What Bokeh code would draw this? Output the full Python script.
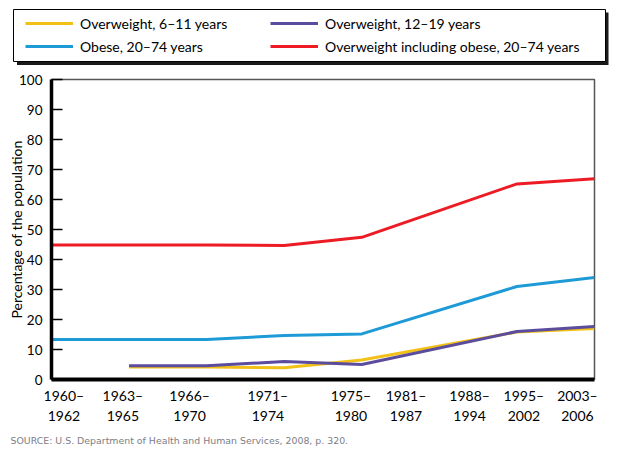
from bokeh.plotting import figure
from bokeh.layouts import column
from bokeh.models import (Range1d, FixedTicker, Legend, LegendItem, Title)
from bokeh.embed import file_html
from bokeh.resources import INLINE

# ---- data -------------------------------------------------------------
period_labels = ["1960–\n1962", "1963–\n1965", "1966–\n1970", "1971–\n1974",
                 "1975–\n1980", "1981–\n1987", "1988–\n1994", "1995–\n2002",
                 "2003–\n2006"]
adult_slots = [0, 1, 2, 3, 4, 6, 7]
child_slots = [1, 2, 3, 4, 6, 7]
overweight_6_11 = [4.2, 4.2, 3.9, 6.5, 15.8, 17.0]
overweight_12_19 = [4.6, 4.6, 6.0, 5.0, 16.0, 17.7]
obese_20_74 = [13.3, 13.3, 13.3, 14.7, 15.2, 31.0, 34.0]
overweight_incl_obese_20_74 = [44.8, 44.8, 44.8, 44.7, 47.4, 65.2, 66.9]
y_ticks = [0, 10, 20, 30, 40, 50, 60, 70, 80, 90, 100]
series_names = ["Overweight, 6–11 years", "Obese, 20–74 years",
                "Overweight, 12–19 years", "Overweight including obese, 20–74 years"]

# layout: where the period labels sit along the axis (slot units)
label_slots = [0.16, 0.92, 1.78, 2.79, 3.86, 4.57, 5.39, 6.09, 6.78]

FONT = "Lato"
W = 616
TOP_H = 70
YELLOW, BLUE, PURPLE, RED = "#F2C118", "#1E9BD6", "#5B4C9E", "#ED1C24"
NAN = float("nan")

# ---- legend strip -----------------------------------------------------
lg = figure(width=W, height=TOP_H, output_backend="svg", toolbar_location=None,
            x_range=Range1d(0, W), y_range=Range1d(TOP_H, 0),
            x_axis_location=None, y_axis_location=None,
            min_border=0, min_border_left=0, min_border_right=0,
            min_border_top=0, min_border_bottom=0)
lg.frame_align = False
lg.grid.visible = False
lg.outline_line_color = None
lg.background_fill_color = "white"
lg.border_fill_color = "white"
# drop shadow + box
lg.quad(left=[16.5], right=[608], top=[12], bottom=[64.5],
        fill_color="#1a1a1a", line_color=None)
lg.quad(left=[13], right=[605], top=[9], bottom=[61],
        fill_color="white", line_color="black", line_width=1)
swatches = [lg.line(x=[0], y=[NAN], line_color=c, line_width=3)
            for c in (YELLOW, BLUE, PURPLE, RED)]
legend = Legend(items=[LegendItem(label=n, renderers=[r]) for n, r in
                       zip(series_names, swatches)],
                ncols=2, location=(21, TOP_H - 60), padding=4, spacing=3, margin=0,
                glyph_width=48, glyph_height=20, label_height=20, label_width=187,
                label_standoff=7, label_text_font=FONT, label_text_font_size="14px",
                label_text_color="black", border_line_alpha=0,
                background_fill_alpha=0)
lg.add_layout(legend)

# ---- main chart -------------------------------------------------------
p = figure(width=W, height=452 - TOP_H, output_backend="svg", toolbar_location=None,
           x_range=Range1d(0, 7), y_range=Range1d(0, 100),
           min_border_left=51, min_border_right=W - 594, min_border_top=79 - TOP_H,
           min_border_bottom=452 - 379)
p.frame_align = False
p.grid.visible = False
p.outline_line_color = "#555555"
p.outline_line_width = 1.5
p.background_fill_color = "white"
p.border_fill_color = "white"

p.yaxis.ticker = FixedTicker(ticks=y_ticks)
p.yaxis.axis_line_width = 3.5
p.yaxis.axis_line_color = "black"
p.yaxis.major_tick_in = 11
p.yaxis.major_tick_out = 0
p.yaxis.major_tick_line_width = 1.5
p.yaxis.minor_tick_line_color = None
p.yaxis.major_label_text_font = FONT
p.yaxis.major_label_text_font_size = "13.5px"
p.yaxis.major_label_text_color = "black"
p.yaxis.major_label_standoff = 9
p.yaxis.axis_label = "Percentage of the population"
p.yaxis.axis_label_text_font = FONT
p.yaxis.axis_label_text_font_size = "14px"
p.yaxis.axis_label_text_font_style = "normal"
p.yaxis.axis_label_text_color = "black"
p.yaxis.axis_label_standoff = -9

p.xaxis.ticker = FixedTicker(ticks=label_slots)
p.xaxis.major_label_overrides = {s: t for s, t in zip(label_slots, period_labels)}
p.xaxis.axis_line_width = 4
p.xaxis.axis_line_color = "black"
p.xaxis.major_tick_in = 0
p.xaxis.major_tick_out = 0
p.xaxis.minor_tick_line_color = None
p.xaxis.major_label_text_font = FONT
p.xaxis.major_label_text_font_size = "14px"
p.xaxis.major_label_text_color = "black"
p.xaxis.major_label_standoff = 7

p.line(adult_slots, overweight_incl_obese_20_74, line_color=RED, line_width=3)
p.line(adult_slots, obese_20_74, line_color=BLUE, line_width=3)
p.line(child_slots, overweight_6_11, line_color=YELLOW, line_width=3)
p.line(child_slots, overweight_12_19, line_color=PURPLE, line_width=3)

src = Title(text="SOURCE: U.S. Department of Health and Human Services, 2008, p. 320.",
            align="left", offset=-41, text_font="DejaVu Sans", text_font_size="9.4px",
            text_color="#7d7d86", text_font_style="normal", standoff=12)
p.add_layout(src, "below")

layout = column(lg, p, spacing=0)
open("out.html", "w").write(file_html(layout, INLINE))
